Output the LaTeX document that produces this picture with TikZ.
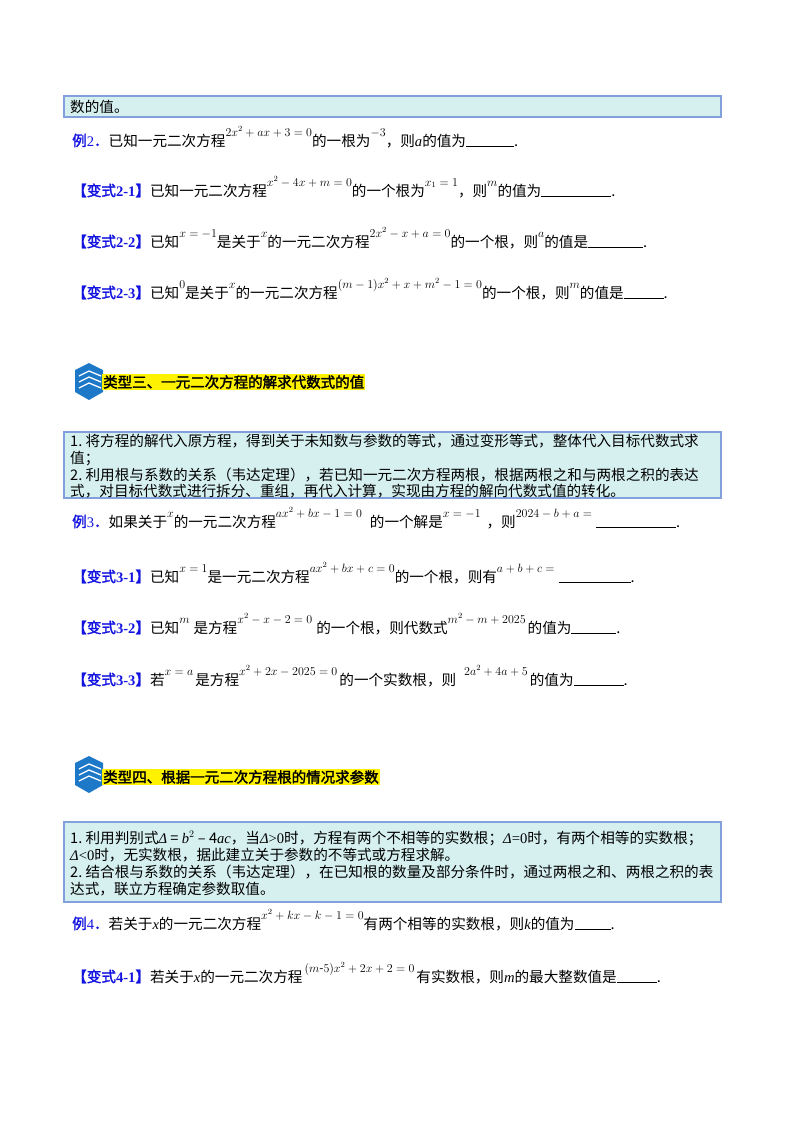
\documentclass[tikz,border=0pt]{standalone}
\usepackage{fontspec}
\setmainfont{Liberation Serif}
\newfontfamily\cjk{Noto Sans CJK SC}
\newfontfamily\cjkb[FakeBold=2]{Noto Sans CJK SC}
\definecolor{boxfill}{RGB}{214,240,240}
\definecolor{boxline}{RGB}{130,160,220}
\definecolor{lblblue}{RGB}{20,20,225}
\definecolor{iconblue}{RGB}{30,120,200}
\newcommand{\up}[1]{\raisebox{10pt}{\fontsize{12}{12}\selectfont$#1$}}
\newcommand{\blank}[1]{\rule[-1pt]{#1}{0.8pt}}
\newcommand{\bs}[1]{{\color{lblblue}\cjkb 【变式{\rmfamily\bfseries #1}】}}
\newcommand{\li}[1]{{\color{lblblue}\cjkb 例{\rmfamily #1}．}}
\tikzset{
  line/.style={anchor=base west, inner sep=0pt, font=\cjk\fontsize{14.6}{16}\selectfont},
  hint/.style={draw=boxline, line width=1.5pt, fill=boxfill},
  head/.style={anchor=west, inner sep=1pt, fill=yellow, font=\cjkb\fontsize{14.5}{16}\selectfont},
}
\newcommand{\books}[2]{% icon at (#1,#2)
  \fill[iconblue] (#1,#2) -- ++(14,7) -- ++(14,-7) -- ++(0,-22) -- ++(-14,-8) -- ++(-14,8) -- cycle;
  \foreach \k in {0,1,2}
    \draw[white, line width=1.3pt] (#1+4,#2-6-6*\k) -- ++(10,5) -- ++(12,-5);
}
\begin{document}
\begin{tikzpicture}[x=1pt,y=1pt]
  \useasboundingbox[fill=white] (0,0) rectangle (800,-1132);
  %% first block
  \draw[hint] (64,-96) rectangle (721,-117);
  \node[line] (t0) at (70,-112) {数的值。};
  \node[line] (ex2) at (72,-146) {\li{2}已知一元二次方程\up{2x^2+ax+3=0}的一根为\up{-3}，则{\rmfamily\itshape a}的值为\blank{48pt}.};
  \node[line] (v21) at (72,-196) {\bs{2-1}已知一元二次方程\up{x^2-4x+m=0}的一个根为\up{x_1=1}，则\up{m}的值为\blank{70pt}.};
  \node[line] (v22) at (72,-247) {\bs{2-2}已知\up{x=-1}是关于\up{x}的一元二次方程\up{2x^2-x+a=0}的一个根，则\up{a}的值是\blank{55pt}.};
  \node[line] (v23) at (72,-298) {\bs{2-3}已知\up{0}是关于\up{x}的一元二次方程\up{(m-1)x^2+x+m^2-1=0}的一个根，则\up{m}的值是\blank{40pt}.};
  %% type three
  \books{75}{-370}
  \node[head] (h3) at (102,-382) {类型三、一元二次方程的解求代数式的值};
  \draw[hint] (64,-432) rectangle (721,-498);
  \node[line] (b31) at (70,-446) {1.\ 将方程的解代入原方程，得到关于未知数与参数的等式，通过变形等式，整体代入目标代数式求};
  \node[line] (b32) at (70,-463) {值；};
  \node[line] (b33) at (70,-480) {2.\ 利用根与系数的关系（韦达定理），若已知一元二次方程两根，根据两根之和与两根之积的表达};
  \node[line] (b34) at (70,-496) {式，对目标代数式进行拆分、重组，再代入计算，实现由方程的解向代数式值的转化。};
  \node[line] (ex3) at (72,-527) {\li{3}如果关于\up{x}的一元二次方程\up{ax^2+bx-1=0}\hspace{8pt}的一个解是\up{x=-1}\hspace{6pt}，则\up{2024-b+a=}\hspace{4pt}\blank{80pt}.};
  \node[line] (v31) at (72,-582) {\bs{3-1}已知\up{x=1}是一元二次方程\up{ax^2+bx+c=0}的一个根，则有\up{a+b+c=}\hspace{4pt}\blank{72pt}.};
  \node[line] (v32) at (72,-633) {\bs{3-2}已知\up{m}\hspace{4pt}是方程\up{x^2-x-2=0}\hspace{4pt}的一个根，则代数式\up{m^2-m+2025}\hspace{2pt}的值为\blank{45pt}.};
  \node[line] (v33) at (72,-685) {\bs{3-3}若\up{x=a}\hspace{2pt}是方程\up{x^2+2x-2025=0}\hspace{2pt}的一个实数根，则\hspace{8pt}\up{2a^2+4a+5}\hspace{2pt}的值为\blank{50pt}.};
  %% type four
  \books{75}{-763}
  \node[head] (h4) at (102,-777) {类型四、根据一元二次方程根的情况求参数};
  \draw[hint] (64,-822) rectangle (721,-902);
  \node[line] (b41) at (70,-843) {1.\ 利用判别式{\rmfamily\itshape Δ}\ =\ {\rmfamily\itshape b}$^2$\ –\ 4{\rmfamily\itshape ac}，当{\rmfamily\itshape Δ}{\rmfamily >0}时，方程有两个不相等的实数根；{\rmfamily\itshape Δ}{\rmfamily =0}时，有两个相等的实数根；};
  \node[line] (b42) at (70,-860) {{\rmfamily\itshape Δ}{\rmfamily <0}时，无实数根，据此建立关于参数的不等式或方程求解。};
  \node[line] (b43) at (70,-877) {2.\ 结合根与系数的关系（韦达定理），在已知根的数量及部分条件时，通过两根之和、两根之积的表};
  \node[line] (b44) at (70,-894) {达式，联立方程确定参数取值。};
  \node[line] (ex4) at (72,-929) {\li{4}若关于{\rmfamily\itshape x}的一元二次方程\up{x^2+kx-k-1=0}有两个相等的实数根，则{\rmfamily\itshape k}的值为\blank{36pt}.};
  \node[line] (v41) at (72,-982) {\bs{4-1}若关于{\rmfamily\itshape x}的一元二次方程\hspace{2pt}\up{(m\mbox{-}5)x^2+2x+2=0}\hspace{2pt}有实数根，则{\rmfamily\itshape m}的最大整数值是\blank{40pt}.};
\end{tikzpicture}
\end{document}
